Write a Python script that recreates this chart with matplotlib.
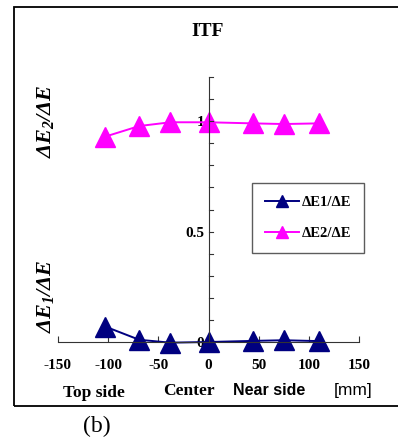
import matplotlib
matplotlib.use('Agg')
import matplotlib.pyplot as plt
from matplotlib.patches import Rectangle

plt.rcParams['font.family'] = ['Liberation Serif', 'DejaVu Serif']
plt.rcParams['mathtext.fontset'] = 'custom'
plt.rcParams['mathtext.it'] = 'Liberation Serif:bold:italic'
plt.rcParams['mathtext.rm'] = 'Liberation Serif:bold:italic'
plt.rcParams['mathtext.bf'] = 'Liberation Serif:bold:italic'

# position [mm]
pos = [-103, -69, -38, 0, 44, 75, 110]
de1 = [0.07, 0.01, -0.003, 0.0, 0.005, 0.008, 0.004]   # dE1/dE
de2 = [0.93, 0.978, 0.995, 0.995, 0.99, 0.987, 0.99]   # dE2/dE
xticks = [-150, -100, -50, 0, 50, 100, 150]
ylabels = {0: '0', 5: '0.5', 10: '1'}

fig = plt.figure(figsize=(3.98, 4.48), dpi=100)
W, H = 398, 448
# outer frame
fig.patches.append(Rectangle((14 / W, 1 - 406 / H), 400 / W, 399 / H,
                             transform=fig.transFigure, fill=False,
                             edgecolor='black', lw=1.3))

ax = fig.add_axes([58 / W, 1 - 342 / H, 301 / W, 265 / H])
ax.patch.set_alpha(0)
ax.plot(pos, de1, '-^', color='#000080', lw=1.4, ms=14, clip_on=False, label='ΔE1/ΔE')
ax.plot(pos, de2, '-^', color='#ff00ff', lw=1.4, ms=14, clip_on=False, label='ΔE2/ΔE')
ax.set_xlim(-150, 150)
ax.set_ylim(0, 1.2)

for s in ['top', 'right']:
    ax.spines[s].set_visible(False)
ax.spines['left'].set_position(('data', 0))
ax.spines['left'].set_color('#333333')
ax.spines['bottom'].set_color('#333333')

ax.set_xticks(xticks)
ax.set_xticklabels([str(t) for t in xticks], fontweight='bold', fontsize=11)
ax.tick_params(axis='x', direction='in', length=4, pad=12, color='#333333')
yt = [i / 10 for i in range(13)]
ax.set_yticks(yt)
ax.set_yticklabels([ylabels.get(i, '') for i in range(13)], fontweight='bold', fontsize=11)
ax.tick_params(axis='y', direction='out', length=0, pad=3)
# ticks on right side of y axis
for t in yt:
    ax.plot([0, 4], [t, t], color='#333333', lw=0.8, clip_on=False)

leg = ax.legend(loc='upper left', bbox_to_anchor=((252 - 58) / 301, (342 - 183) / 265),
                borderaxespad=0, frameon=True, fancybox=False, edgecolor='#333333',
                prop={'weight': 'bold', 'size': 10.5}, handlelength=2.3,
                labelspacing=1.2, borderpad=0.9, handletextpad=0.2, markerscale=0.65)
leg.get_frame().set_linewidth(1.0)

fig.text(208 / W, 1 - 31 / H, 'ITF', ha='center', va='center', fontweight='bold', fontsize=14)
fig.text(45 / W, 1 - 121 / H, r'$\Delta E_2/\Delta E$', rotation=90, ha='center', va='center', fontsize=16)
fig.text(45 / W, 1 - 296 / H, r'$\Delta E_1/\Delta E$', rotation=90, ha='center', va='center', fontsize=16)
fig.text(94 / W, 1 - 393 / H, 'Top side', ha='center', va='center', fontweight='bold', fontsize=12.5)
fig.text(189 / W, 1 - 391 / H, 'Center', ha='center', va='center', fontweight='bold', fontsize=12.5)
fig.text(269 / W, 1 - 390 / H, 'Near side', ha='center', va='center', fontweight='bold', fontsize=11.5,
         family='Liberation Sans')
fig.text(353 / W, 1 - 390 / H, '[mm]', ha='center', va='center', fontsize=12.5,
         family='Liberation Sans')
fig.text(97 / W, 1 - 426 / H, '(b)', ha='center', va='center', fontsize=17)

fig.savefig('out.png', dpi=100)
